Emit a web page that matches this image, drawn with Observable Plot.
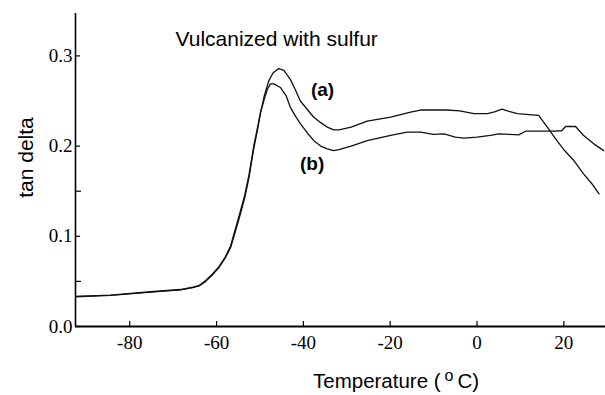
<!DOCTYPE html>
<html>
<head>
<meta charset="utf-8">
<script src="https://cdn.jsdelivr.net/npm/d3@7"></script>
<script src="https://cdn.jsdelivr.net/npm/@observablehq/plot@0.6"></script>
<style>
  html, body { margin: 0; padding: 0; background: #fff; }
  svg { display: block; }
</style>
</head>
<body>
<div id="chart"></div>
<script>
// Curve (a)
const tempA = [-92.5, -84.4, -75.2, -68.3, -65.5, -64, -62.5, -61, -59.5, -58, -56.8, -55.5, -54.5, -53.5, -52.5, -51.4, -50.5, -49.9, -49, -48, -47, -45.7, -44.5, -43, -41.8, -40.7, -39, -37.6, -36, -34.5, -33, -31.8, -29, -25.3, -19.9, -15.3, -13, -7, -4, -0.7, 2.4, 4, 5.8, 7, 9.3, 12, 14.2, 16.2, 18.1, 20, 22.3, 24.6, 26.5, 28.1];
const tanA  = [0.033, 0.0344, 0.038, 0.0407, 0.043, 0.045, 0.050, 0.057, 0.065, 0.076, 0.087, 0.108, 0.125, 0.143, 0.166, 0.198, 0.220, 0.236, 0.256, 0.272, 0.281, 0.286, 0.284, 0.274, 0.262, 0.250, 0.240, 0.232, 0.226, 0.221, 0.218, 0.218, 0.221, 0.2276, 0.232, 0.2376, 0.240, 0.240, 0.239, 0.236, 0.236, 0.238, 0.241, 0.239, 0.236, 0.235, 0.234, 0.221, 0.208, 0.196, 0.184, 0.169, 0.158, 0.147];

// Curve (b)
const tempB = [-92.5, -84.4, -75.2, -68.3, -65.5, -64, -62.5, -61, -59.5, -58, -56.8, -55.5, -54.5, -53.5, -52.5, -51.4, -50.5, -49.9, -49, -48.3, -47.6, -46.8, -45.3, -44, -43, -41.8, -40.7, -39, -37.6, -36, -34.5, -33, -31.8, -29, -25.3, -19.9, -16.1, -13, -10, -7.6, -5, -3, 0, 3.1, 5, 7.5, 9.6, 11.2, 14, 17.7, 19.5, 20.4, 22.7, 24.5, 26.9, 29.2];
const tanB  = [0.0335, 0.0348, 0.0385, 0.041, 0.0435, 0.0455, 0.051, 0.058, 0.066, 0.077, 0.089, 0.111, 0.128, 0.146, 0.169, 0.201, 0.222, 0.237, 0.252, 0.263, 0.269, 0.269, 0.265, 0.256, 0.243, 0.233, 0.225, 0.214, 0.206, 0.200, 0.197, 0.195, 0.196, 0.200, 0.206, 0.2118, 0.2154, 0.2154, 0.213, 0.2136, 0.210, 0.2088, 0.210, 0.2118, 0.2136, 0.213, 0.2125, 0.2165, 0.2166, 0.2166, 0.217, 0.2217, 0.2217, 0.212, 0.2025, 0.195];

// Axis ticks and labels
const xTicks = [-80, -60, -40, -20, 0, 20];
const yTicks = [0.0, 0.1, 0.2, 0.3];
const yMinorTicks = [0.05, 0.15];
const xDomain = [-92.5, 29.6];
const yDomain = [0, 0.347];

const titleText = "Vulcanized with sulfur";
const yTitle = "tan delta";
const xTitleParts = ["Temperature (", "o", "C)"];
const curveLabels = ["(a)", "(b)"];
const labelTemps = [-35.6, -38.0];
const labelTans = [0.255, 0.173];

const rowsA = tempA.map((t, i) => ({t, v: tanA[i]}));
const rowsB = tempB.map((t, i) => ({t, v: tanB[i]}));
const labelRows = curveLabels.map((s, i) => ({s, t: labelTemps[i], v: labelTans[i]}));

const W = 605, H = 395, ML = 75, MR = 0, MT = 13, MB = 69;
const frameW = W - ML - MR, frameH = H - MT - MB;
const tickLen = 5;
const serif = "'Liberation Serif', 'Times New Roman', serif";
const sans = "'Liberation Sans', Arial, sans-serif";

const plot = Plot.plot({
  width: W,
  height: H,
  marginLeft: ML,
  marginRight: MR,
  marginTop: MT,
  marginBottom: MB,
  x: {domain: xDomain, axis: null},
  y: {domain: yDomain, axis: null},
  style: {background: "#fff", color: "#000"},
  marks: [
    Plot.line(rowsA, {x: "t", y: "v", stroke: "#111", strokeWidth: 1.3, clip: true}),
    Plot.line(rowsB, {x: "t", y: "v", stroke: "#111", strokeWidth: 1.3, clip: true}),
    // axis lines
    Plot.ruleX([xDomain[0]], {stroke: "#000", strokeWidth: 1.6}),
    Plot.ruleY([0], {stroke: "#000", strokeWidth: 1.8}),
    // inward ticks
    Plot.tickY(yTicks, {y: d => d, insetRight: frameW - tickLen, stroke: "#000", strokeWidth: 1.2}),
    Plot.tickY(yMinorTicks, {y: d => d, insetRight: frameW - tickLen - 1, stroke: "#000", strokeWidth: 1.2}),
    Plot.tickX(xTicks, {x: d => d, insetTop: frameH - tickLen, stroke: "#000", strokeWidth: 1.2}),
    // tick labels
    Plot.text(xTicks, {x: d => d, frameAnchor: "bottom", dy: 22, lineAnchor: "bottom", text: d => String(d), fontFamily: serif, fontSize: 19, fill: "#000"}),
    Plot.text(yTicks, {y: d => d, frameAnchor: "left", dx: -3, textAnchor: "end", text: d => d.toFixed(1), fontFamily: serif, fontSize: 19, fill: "#000"}),
    // title
    Plot.text([titleText], {frameAnchor: "top-left", dx: 100, dy: 32, lineAnchor: "bottom", textAnchor: "start", text: d => d, fontFamily: sans, fontSize: 21, fill: "#000"}),
    // curve labels
    Plot.text(labelRows, {x: "t", y: "v", text: "s", lineAnchor: "bottom", fontFamily: sans, fontWeight: "bold", fontSize: 19, fill: "#000"})
  ]
});

document.getElementById("chart").appendChild(plot);

const svg = d3.select(plot);

// y-axis title, rotated
svg.append("text")
  .attr("transform", "translate(33,157.5) rotate(-90)")
  .attr("text-anchor", "middle")
  .attr("font-family", sans)
  .attr("font-size", 21)
  .attr("fill", "#000")
  .text(yTitle);

// x-axis title with superscript degree
const xt = svg.append("text")
  .attr("x", 313)
  .attr("y", 388)
  .attr("text-anchor", "start")
  .attr("font-family", sans)
  .attr("font-size", 20.5)
  .attr("fill", "#000");
xt.append("tspan").text(xTitleParts[0]);
xt.append("tspan").attr("dx", 4).attr("dy", -7).attr("font-size", 16).text(xTitleParts[1]);
xt.append("tspan").attr("dx", 4).attr("dy", 7).text(xTitleParts[2]);
</script>
</body>
</html>
